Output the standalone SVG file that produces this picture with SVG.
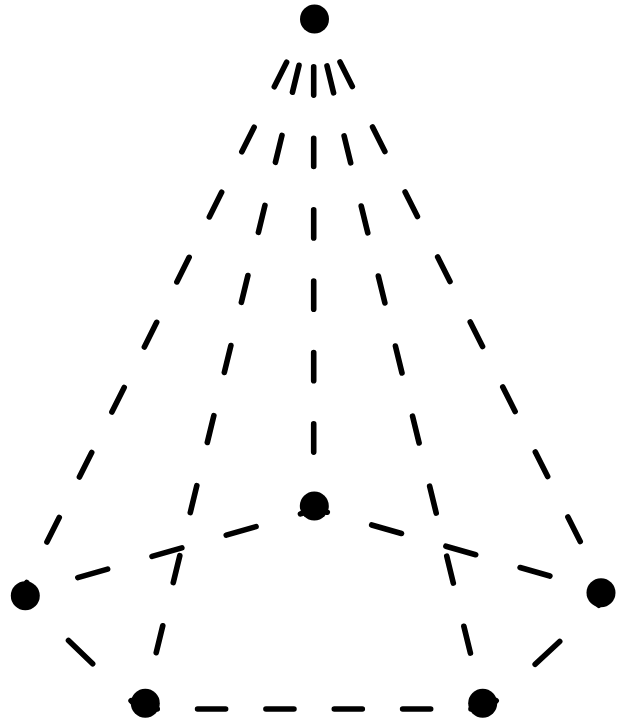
<svg xmlns="http://www.w3.org/2000/svg" width="629" height="725" viewBox="0 0 629 725">
<style>
.n{fill:#000}
.e{fill:none;stroke:#000;stroke-width:5.6;stroke-linecap:round}
.o{stroke-dasharray:27.5 45.2}
.i{stroke-dasharray:27.7 44.4}
.v{stroke-dasharray:28.2 43.2}
.c{stroke-dasharray:31 46.2}
.s{stroke-dasharray:33.5 53.3}
</style>
<rect width="629" height="725" fill="#fff"/>
<g id="connectors">
<path class="e o" d="M286.6 62.2L23 590"/>
<path class="e i" d="M299 65.3L144 703"/>
<path class="e v" d="M313.7 66.9V506"/>
<path class="e i" d="M327 65.9L482.6 703"/>
<path class="e o" d="M340 61.9L603 587"/>
<path class="e c" d="M77.8 577.6L314 510"/>
<path class="e c" stroke-dashoffset="17.2" d="M314 508.4L600 590.4"/>
<path class="e s" d="M68.5 640.5L145 714"/>
<path class="e s" stroke-dashoffset="24.9" d="M605 599.3L482 713.8"/>
<path class="e" stroke-dasharray="28 40.35" stroke-dashoffset="15.75" d="M145 709H482"/>
</g>
<g id="node-top"><circle class="n" cx="314.5" cy="19" r="14.5"/></g>
<g id="node-center"><circle class="n" cx="314.3" cy="506" r="14.5"/></g>
<g id="node-left"><circle class="n" cx="25.3" cy="595.7" r="14.5"/></g>
<g id="node-right"><circle class="n" cx="601" cy="592.7" r="14.5"/></g>
<g id="node-bottom-left"><circle class="n" cx="145.3" cy="703.3" r="14.5"/></g>
<g id="node-bottom-right"><circle class="n" cx="482.7" cy="703.3" r="14.5"/></g>
</svg>
